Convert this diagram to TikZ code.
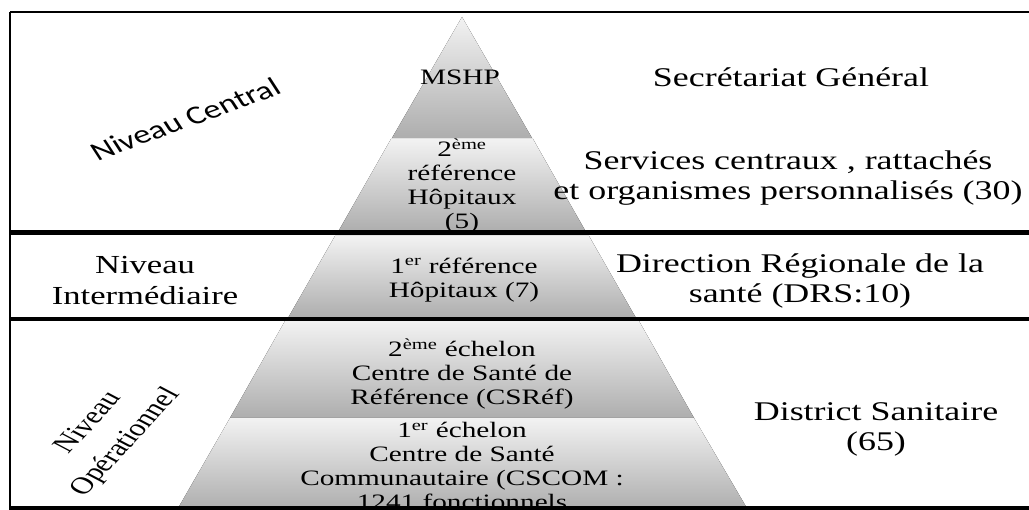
\documentclass[tikz,border=0pt]{standalone}
\usepackage{fontspec}
\setmainfont{Liberation Serif}
\newfontfamily\calibrifont{Carlito}
\definecolor{tiertop}{gray}{0.95}
\definecolor{tierbot}{gray}{0.68}
\begin{document}
\begin{tikzpicture}[x=1pt,y=1pt,
    tier/.style={top color=tiertop,bottom color=tierbot},
    pyrtext/.style={align=center,xscale=1.33,font=\fontsize{22}{24}\selectfont},
    sidetext/.style={align=center,xscale=1.33,font=\fontsize{27}{30}\selectfont},
    leveltext/.style={align=center,xscale=1.33,font=\fontsize{26}{31}\selectfont}]
    \useasboundingbox (0,0) rectangle (1029,-510);
    \clip (0,0) rectangle (1029,-510);

    % pyramid, one shaded slice per level
    \fill[tier] (462,-17) -- (532,-138) -- (392,-138) -- cycle;
    \fill[tier] (391,-139) -- (533,-139) -- (586,-232) -- (338,-232) -- cycle;
    \fill[tier] (335,-236) -- (589,-236) -- (636,-318) -- (288,-318) -- cycle;
    \fill[tier] (285,-321) -- (639,-321) -- (694,-418) -- (230,-418) -- cycle;
    \fill[tier] (230,-418) -- (694,-418) -- (748,-510) -- (177,-510) -- cycle;

    \node[pyrtext] (mshp) at (460,-77) {MSHP};
    \node[pyrtext] (hop2) at (462,-186) {2\textsuperscript{ème}\\référence\\Hôpitaux\\(5)};
    \node[pyrtext] (hop1) at (464,-280) {1\textsuperscript{er} référence\\Hôpitaux (7)};
    \node[pyrtext] (csref) at (462,-374) {2\textsuperscript{ème} échelon\\Centre de Santé de\\Référence (CSRéf)};
    \node[pyrtext] (cscom) at (462,-466) {1\textsuperscript{er} échelon\\Centre de Santé\\Communautaire (CSCOM :\\1241 fonctionnels};

    % levels on the left
    \node[leveltext,font=\calibrifont\fontsize{26}{30}\selectfont,rotate=26] (central) at (185,-119) {Niveau Central};
    \node[leveltext] (inter) at (145,-281) {Niveau\\Intermédiaire};
    \node[leveltext,font=\fontsize{24}{34}\selectfont,rotate=55] (oper) at (108,-433) {Niveau\\Opérationnel};

    % structures on the right
    \node[sidetext] (sg) at (791,-77) {Secrétariat Général};
    \node[sidetext] (services) at (788,-178) {Services centraux , rattachés\\et organismes personnalisés (30)};
    \node[sidetext] (drs) at (800,-281) {Direction Régionale de la\\santé (DRS:10)};
    \node[sidetext] (district) at (876,-429) {District Sanitaire\\(65)};

    % frame and separators
    \draw[line width=2pt] (10,-12) -- (1029,-12);
    \draw[line width=2pt] (10,-12) -- (10,-510);
    \draw[line width=5pt] (10,-233) -- (1029,-233);
    \draw[line width=3.5pt] (10,-319) -- (1029,-319);
    \draw[line width=3.5pt] (10,-508) -- (1029,-508);
\end{tikzpicture}
\end{document}
